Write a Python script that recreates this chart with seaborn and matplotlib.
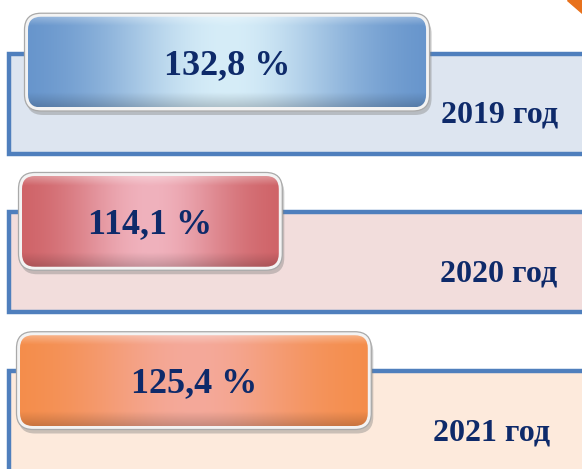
import numpy as np
import pandas as pd
import matplotlib
matplotlib.use("Agg")
import matplotlib.pyplot as plt
import seaborn as sns
from matplotlib.patches import FancyBboxPatch, Rectangle, Polygon
from matplotlib.colors import to_rgb

# ---- data ----
years = ["2019 год", "2020 год", "2021 год"]
growth = [132.8, 114.1, 125.4]
value_labels = ["132,8 %", "114,1 %", "125,4 %"]

# ---- styles ----
bar_edge = ["#5d8dc8", "#cc5c60", "#f58b44"]
bar_center = ["#d6edf8", "#f0b2bd", "#f4a99a"]
panel_fill = ["#dde5f0", "#f2dddc", "#fdeadc"]
border_col = "#4f7fbd"
text_col = "#0e2a6a"

W, H = 582, 469
sns.set_theme(style="white")
plt.rcParams['font.family'] = ['Liberation Serif', 'DejaVu Serif']

fig = plt.figure(figsize=(W / 100, H / 100), dpi=100)
fig.patch.set_facecolor('white')

# background decoration axes in pixel units
bg = fig.add_axes([0, 0, 1, 1])
bg.set_xlim(0, W)
bg.set_ylim(H, 0)
bg.axis('off')

panel_tops = [54.5, 212.5, 371.5]
panel_bottoms = [154.5, 312.5, 540]
for top, bot, fc in zip(panel_tops, panel_bottoms, panel_fill):
    bg.add_patch(Rectangle((9, top), 640, bot - top, facecolor=fc,
                           edgecolor=border_col, lw=3.2, clip_on=False))
bg.add_patch(Polygon([(567, 0), (582, 0), (582, 13)], closed=True,
                     color="#e8711c", clip_on=False))

# data axes
ax = fig.add_axes([0, 0, 1, 1])
ax.patch.set_alpha(0)
df = pd.DataFrame({"year": years, "growth": growth})
sns.barplot(data=df, x="growth", y="year", orient="h", width=0.57,
            color=bar_edge[0], ax=ax)
XL = (78.7, 152.6)
YL = (2.555, -0.390)
ax.set_xlim(*XL)
ax.set_ylim(*YL)
ax.axis('off')
sx = W / (XL[1] - XL[0])      # px per x unit
sy = H / (YL[0] - YL[1])      # px per y unit
aspect = sx / sy


def px2x(p):
    return XL[0] + p / sx


bar_left_px = [28, 22, 20]
year_right_px = [558, 557, 550]

bars = list(ax.patches)
for i, p in enumerate(bars):
    y0 = p.get_y()
    h = p.get_height()
    x1 = p.get_x() + p.get_width()
    p.remove()
    x0 = px2x(bar_left_px[i])
    w = x1 - x0
    r = 13 / sx
    pad = 3.5 / sx

    # shadow
    sh = FancyBboxPatch((x0 + 2 / sx, y0 + 4 / sy), w, h,
                        boxstyle=f"round,pad={pad},rounding_size={r + pad}",
                        mutation_aspect=aspect, facecolor="#7f7f7f",
                        edgecolor="none", alpha=0.4, zorder=2)
    ax.add_patch(sh)
    # frame
    fr = FancyBboxPatch((x0, y0), w, h,
                        boxstyle=f"round,pad={pad},rounding_size={r + pad}",
                        mutation_aspect=aspect, facecolor="#f3f3f3",
                        edgecolor="#a9a9a9", lw=0.9, zorder=3)
    ax.add_patch(fr)
    # bar body
    body = FancyBboxPatch((x0, y0), w, h,
                          boxstyle=f"round,pad=0,rounding_size={r}",
                          mutation_aspect=aspect, facecolor="none",
                          edgecolor="none", zorder=4)
    ax.add_patch(body)

    nx, ny = 300, 120
    t = np.linspace(0, 1, nx)
    wgt = np.exp(-((t - 0.5) / 0.32) ** 2)
    ec = np.array(to_rgb(bar_edge[i]))
    cc = np.array(to_rgb(bar_center[i]))
    row = ec[None, :] * (1 - wgt[:, None]) + cc[None, :] * wgt[:, None]
    img = np.repeat(row[None, :, :], ny, axis=0)
    v = np.linspace(0, 1, ny)[:, None, None]
    light = np.clip((0.10 - v) / 0.10, 0, 1) * 0.30
    dark = np.clip((v - 0.84) / 0.16, 0, 1) * 0.18
    img = img + (1 - img) * light
    img = img * (1 - dark)
    im = ax.imshow(img, extent=(x0, x1, y0 + h, y0), origin='upper',
                   aspect='auto', zorder=5, interpolation='bilinear')
    im.set_clip_path(body)

    yc = y0 + h / 2
    ax.text((x0 + x1) / 2, yc + 12 / sy, value_labels[i], ha='center',
            va='baseline', fontsize=26, fontweight='bold', color=text_col,
            zorder=6)
    ax.text(px2x(year_right_px[i]), yc + 60 / sy, years[i], ha='right',
            va='baseline', fontsize=23, fontweight='bold', color=text_col,
            zorder=6)

ax.set_xlim(*XL)
ax.set_ylim(*YL)

fig.savefig("out.png", dpi=100, facecolor='white')
